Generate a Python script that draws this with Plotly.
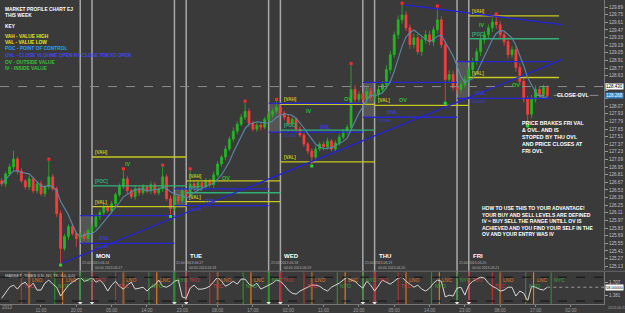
import plotly.graph_objects as go
import pandas as pd

# ---------------- data ----------------
hours = list(range(1, 141))
first_open = 126.70
close = [
    126.643, 126.826, 126.954, 127.100, 126.880, 126.698, 126.588, 126.734, 126.515, 126.643,
    126.461, 126.588, 126.771, 126.552, 126.096, 125.457, 125.676, 125.858, 125.731, 125.639,
    125.712, 125.639, 125.785, 125.858, 126.041, 126.114, 126.223, 126.150, 126.278, 126.444,
    126.588, 126.734, 126.515, 126.406, 126.552, 126.479, 126.588, 126.515, 126.625, 126.479,
    126.552, 126.771, 126.369, 126.187, 126.406, 126.333, 126.515, 126.442, 126.643, 126.552,
    126.661, 126.588, 126.698, 126.625, 126.807, 127.008, 127.136, 127.282, 127.465, 127.611,
    127.738, 127.866, 127.976, 127.757, 127.647, 127.720, 127.684, 127.830, 127.921, 127.976,
    128.049, 127.939, 127.866, 127.757, 127.830, 127.647, 127.538, 127.373, 127.246, 127.136,
    127.282, 127.373, 127.319, 127.428, 127.282, 127.392, 127.501, 127.611, 127.684, 128.377,
    128.195, 128.286, 128.195, 128.341, 128.231, 128.286, 128.377, 128.469, 128.742, 129.016,
    129.381, 129.655, 129.746, 129.509, 129.199, 129.326, 129.071, 129.290, 129.381, 129.253,
    129.472, 129.655, 129.199, 128.560, 128.651, 128.414, 128.377, 128.469, 128.560, 128.742,
    128.888, 129.071, 129.290, 129.381, 129.509, 129.618, 129.564, 129.381, 129.253, 129.016,
    129.107, 128.779, 128.523, 128.195, 127.921, 128.195, 128.377, 128.286, 128.414, 128.268,
]
upper_wick = [
    0.05, 0.04, 0.06, 0.15, 0.04, 0.05, 0.03, 0.06, 0.04, 0.05,
    0.06, 0.04, 0.29, 0.05, 0.04, 0.06, 0.05, 0.04, 0.06, 0.03,
    0.04, 0.05, 0.03, 0.06, 0.04, 0.05, 0.06, 0.04, 0.05, 0.04,
    0.06, 0.15, 0.05, 0.04, 0.06, 0.04, 0.05, 0.03, 0.06, 0.05,
    0.04, 0.18, 0.05, 0.06, 0.04, 0.05, 0.06, 0.04, 0.24, 0.05,
    0.04, 0.06, 0.05, 0.04, 0.06, 0.05, 0.04, 0.06, 0.05, 0.07,
    0.05, 0.06, 0.15, 0.05, 0.04, 0.06, 0.05, 0.04, 0.06, 0.05,
    0.11, 0.05, 0.04, 0.06, 0.05, 0.04, 0.06, 0.05, 0.04, 0.05,
    0.06, 0.04, 0.05, 0.06, 0.04, 0.05, 0.06, 0.04, 0.05, 0.44,
    0.08, 0.06, 0.05, 0.07, 0.06, 0.05, 0.07, 0.06, 0.08, 0.07,
    0.06, 0.08, 0.18, 0.07, 0.06, 0.08, 0.07, 0.06, 0.08, 0.07,
    0.06, 0.22, 0.07, 0.06, 0.08, 0.07, 0.06, 0.08, 0.07, 0.06,
    0.07, 0.06, 0.08, 0.07, 0.06, 0.08, 0.11, 0.07, 0.06, 0.08,
    0.07, 0.06, 0.08, 0.07, 0.06, 0.08, 0.07, 0.06, 0.05, 0.04,
]
lower_wick = [
    0.05, 0.06, 0.04, 0.05, 0.06, 0.04, 0.05, 0.06, 0.04, 0.05,
    0.04, 0.06, 0.05, 0.04, 0.06, 0.27, 0.05, 0.06, 0.04, 0.15,
    0.05, 0.04, 0.06, 0.05, 0.04, 0.06, 0.05, 0.04, 0.06, 0.05,
    0.04, 0.05, 0.06, 0.04, 0.05, 0.06, 0.04, 0.05, 0.06, 0.04,
    0.05, 0.06, 0.04, 0.11, 0.05, 0.06, 0.04, 0.05, 0.06, 0.04,
    0.05, 0.06, 0.04, 0.05, 0.06, 0.04, 0.05, 0.06, 0.04, 0.05,
    0.06, 0.04, 0.05, 0.06, 0.04, 0.05, 0.06, 0.04, 0.05, 0.06,
    0.04, 0.05, 0.06, 0.04, 0.05, 0.06, 0.04, 0.05, 0.06, 0.13,
    0.05, 0.04, 0.06, 0.05, 0.04, 0.06, 0.05, 0.04, 0.06, 0.05,
    0.07, 0.06, 0.08, 0.07, 0.06, 0.08, 0.07, 0.06, 0.08, 0.07,
    0.06, 0.08, 0.07, 0.06, 0.08, 0.07, 0.06, 0.08, 0.07, 0.06,
    0.08, 0.07, 0.06, 0.40, 0.07, 0.06, 0.08, 0.07, 0.06, 0.08,
    0.07, 0.06, 0.08, 0.07, 0.06, 0.08, 0.07, 0.06, 0.08, 0.07,
    0.06, 0.08, 0.07, 0.06, 0.18, 0.07, 0.06, 0.08, 0.05, 0.04,
]
frac_high_h = [13, 32, 42, 49, 63, 71, 90, 103, 112, 127]
frac_low_h = [16, 44, 80, 114, 135]

# market-profile levels per session
sess_names = ["MON", "TUE", "WED", "THU", "FRI"]
sess_start = [24, 48, 72, 96, 120]
sess_end = [48, 72, 96, 120, 143]
vah = [127.136, 126.698, 128.103, None, 129.728]
poc = [126.607, 126.479, 127.629, None, 129.308]
val = [126.223, 126.315, 127.045, 128.085, 128.596]
ovl_start = [21, 45, 69, 93, 117]
ovl_end = [45, 69, 93, 117, 141]
ovl_hi = [126.059, 126.552, 128.122, 128.505, 128.888]
ovl_lo = [125.548, 126.242, 127.592, 127.866, 128.213]
ovl_label_h = [25.3, 52.3, 81.6, 98.6, 121.0]
sess_open_dates = ["2013.06.17", "2013.06.18", "2013.06.19", "2013.06.20", "2013.06.21"]
sess_close_dates = ["2013.06.14", "2013.06.17", "2013.06.18", "2013.06.19", "2013.06.20"]
zone_labels = [("IV", 31.9, 127.008), ("OV", 56.6, 126.753), ("IV", 78.0, 127.976),
               ("OV", 87.7, 128.195), ("OV", 101.7, 128.176), ("IV", 122.1, 129.564),
               ("OV", 130.5, 128.450)]

trend_up_h = [16.3, 143.7]
trend_up_p = [125.183, 128.925]
trend_dn_h = [103.7, 143.7]
trend_dn_p = [129.929, 129.569]

ask_price = 128.430
bid_price = 128.268

price_ticks = [125.13, 125.27, 125.41, 125.55, 125.69, 125.83, 125.97, 126.11, 126.25,
               126.39, 126.53, 126.67, 126.81, 126.95, 127.09, 127.23, 127.37, 127.51,
               127.65, 127.79, 127.93, 128.07, 128.21, 128.35, 128.49, 128.63, 128.77,
               128.91, 129.05, 129.19, 129.33, 129.47, 129.61, 129.75, 129.89, 130.03]
hidden_ticks = [128.21, 128.35, 128.49]   # covered by the price boxes in the reference

time_tick_h = [11, 20, 29, 38, 47, 56, 65, 74, 83, 92, 101, 110, 119, 128, 137, 146]
time_tick_txt = ["11:00", "20:00", "05:00", "14:00", "23:00", "08:00", "17:00", "02:00",
                 "11:00", "20:00", "05:00", "14:00", "23:00", "08:00", "17:00", "02:00"]

# oscillator sub-window
osc = [
    12, 33, 58, 67, 50, 71, 79, 58, 75, 46,
    46, 75, 88, 71, 58, 21, 46, 67, 79, 88,
    100, 83, 88, 100, 79, 88, 71, 42, 67, 83,
    62, 50, 67, 79, 50, 54, 58, 42, 58, 67,
    88, 62, 58, 67, 83, 88, 17, 12, 54, 67,
    50, 50, 54, 62, 83, 100, 83, 62, 71, 83,
    71, 92, 92, 71, 62, 75, 50, 58, 67, 75,
    88, 83, 67, 46, 33, 29, 42, 50, 58, 67,
    67, 62, 50, 42, 58, 67, 75, 88, 100, 88,
    83, 67, 54, 83, 67, 42, 67, 88, 79, 71,
    83, 96, 100, 83, 71, 58, 67, 50, 42, 54,
    75, 88, 83, 17, 25, 21, 54, 58, 25, 67,
    83, 92, 100, 96, 75, 62, 54, 42, 46, 58,
    58, 21, 42, 33, 0, 62, 58, 50, 46, 58,
]
osc_levels = [100, 0]
osc_ticks = [79, 25]
osc_tick_txt = ["1.707", "1.381"]
day_bases = [0, 24, 48, 72, 96, 120]
mkt_names = ["TKC", "LNO", "NYO", "LNC", "NYC", "TKO"]
mkt_offsets = [6, 8, 14.5, 16.5, 21, 24]

# ---------------- styling ----------------
BG = "#3a3a3a"
FONT = "Liberation Sans"
PXH = 3.925
X0 = 24 - 92 / PXH
X1 = 24 + 512 / PXH
YELLOW = "#c8c81e"
GREENL = "#33b07a"
BLUE = "#2828d2"
mkt_line_col = {"TKC": "#b43232", "TKO": "#b43232", "LNO": "#9a5a30", "LNC": "#e07a22",
                "NYO": "#2f8a2f", "NYC": "#2f8a2f"}
mkt_txt_col = {"TKC": "#d23c3c", "TKO": "#d23c3c", "LNO": "#e07a22", "LNC": "#e07a22",
               "NYO": "#3aaa3a", "NYC": "#3aaa3a"}
mkt_low = {"TKC": True, "NYO": True}


def py(y):
    return 1 - y / 313.0


opens = [first_open] + close[:-1]
highs = [max(o, c) + w for o, c, w in zip(opens, close, upper_wick)]
lows = [min(o, c) - w for o, c, w in zip(opens, close, lower_wick)]
ma = pd.Series(close).rolling(6, min_periods=1).mean().tolist()

fig = go.Figure()


def seg(starts, ends, vals):
    xs, ys = [], []
    for s, e, v in zip(starts, ends, vals):
        if v is None:
            continue
        xs += [s, e, None]
        ys += [v, v, None]
    return xs, ys


for vals, col, st, en in [(vah, YELLOW, sess_start, sess_end), (val, YELLOW, sess_start, sess_end),
                          (poc, GREENL, sess_start, sess_end), (ovl_hi, BLUE, ovl_start, ovl_end),
                          (ovl_lo, BLUE, ovl_start, ovl_end)]:
    xs, ys = seg(st, en, vals)
    fig.add_trace(go.Scatter(x=xs, y=ys, mode="lines", line=dict(color=col, width=1.3),
                             hoverinfo="skip", xaxis="x", yaxis="y"))

# trend lines
fig.add_trace(go.Scatter(x=trend_up_h, y=trend_up_p, mode="lines", line=dict(color="#2222dd", width=1.2),
                         hoverinfo="skip", xaxis="x", yaxis="y"))
fig.add_trace(go.Scatter(x=trend_dn_h, y=trend_dn_p, mode="lines", line=dict(color="#2222dd", width=1.2),
                         hoverinfo="skip", xaxis="x", yaxis="y"))

# candles
fig.add_trace(go.Candlestick(
    x=hours, open=opens, high=highs, low=lows, close=close,
    increasing=dict(line=dict(color="#22b822", width=0.8), fillcolor="#22b822"),
    decreasing=dict(line=dict(color="#ff3c3c", width=0.8), fillcolor="#ff3c3c"),
    whiskerwidth=0, hoverinfo="skip", xaxis="x", yaxis="y"))

# moving average
fig.add_trace(go.Scatter(x=hours, y=ma, mode="lines", line=dict(color="#5a88a8", width=1.1),
                         hoverinfo="skip", xaxis="x", yaxis="y"))

# fractal dots
fig.add_trace(go.Scatter(x=frac_high_h, y=[highs[h - 1] + 0.035 for h in frac_high_h], mode="markers",
                         marker=dict(symbol="square", size=3, color="#ff2a2a"), hoverinfo="skip",
                         xaxis="x", yaxis="y"))
fig.add_trace(go.Scatter(x=frac_low_h, y=[lows[h - 1] - 0.035 for h in frac_low_h], mode="markers",
                         marker=dict(symbol="square", size=3, color="#22dd22"), hoverinfo="skip",
                         xaxis="x", yaxis="y"))

# oscillator
fig.add_trace(go.Scatter(x=hours, y=osc, mode="lines", line=dict(color="#d8d8d8", width=1),
                         hoverinfo="skip", xaxis="x2", yaxis="y2"))
fig.add_trace(go.Scatter(x=[hours[-1], X1], y=[osc[-1], osc[-1]], mode="lines",
                         line=dict(color="#9a9a9a", width=1, dash="dot"), hoverinfo="skip",
                         xaxis="x2", yaxis="y2"))
for lv in osc_levels:
    fig.add_trace(go.Scatter(x=[X0, X1], y=[lv, lv], mode="lines",
                             line=dict(color="#111111", width=1, dash="dash"), hoverinfo="skip",
                             xaxis="x2", yaxis="y2"))

shapes = []
annotations = []

# OVL boxes
for s, lo, hi in zip(ovl_start, ovl_lo, ovl_hi):
    shapes.append(dict(type="rect", xref="x", yref="y", x0=s, x1=s + 3, y0=lo, y1=hi,
                       fillcolor="rgba(150,150,150,0.30)", line=dict(width=0), layer="below"))

# day separators
for s in sess_start:
    for xx in (s - 3, s):
        shapes.append(dict(type="line", xref="x", yref="paper", x0=xx, x1=xx, y0=py(305), y1=1,
                           line=dict(color="#a8a8a8", width=1.5), layer="below"))

# ask line + bid line
shapes.append(dict(type="line", xref="paper", yref="y", x0=0, x1=604 / 625, y0=ask_price, y1=ask_price,
                   line=dict(color="#8a8a8a", width=1, dash="dash")))
shapes.append(dict(type="line", xref="x", yref="y", x0=137, x1=X1, y0=bid_price, y1=bid_price,
                   line=dict(color="#8a8a8a", width=1, dash="dash")))

# panel border
shapes.append(dict(type="line", xref="paper", yref="paper", x0=0, x1=1, y0=py(273), y1=py(273),
                   line=dict(color="#6a6a6a", width=1)))

# market time lines in sub-window
for b in day_bases:
    for nm, off in zip(mkt_names, mkt_offsets):
        xx = b + off
        if xx < X0 or xx > 142:
            continue
        wdt = 2 if nm == "LNO" else 1.2
        shapes.append(dict(type="line", xref="x2", yref="y2 domain", x0=xx, x1=xx, y0=0, y1=1,
                           line=dict(color=mkt_line_col[nm], width=wdt), layer="below"))
        annotations.append(dict(x=xx, y=62.5 if nm in mkt_low else 87.5, xref="x2", yref="y2",
                                text=nm, showarrow=False, xanchor="left", yanchor="middle", xshift=1,
                                font=dict(family=FONT, size=5, color=mkt_txt_col[nm])))

# triangle markers at separators
fig.add_trace(go.Scatter(x=[v for s in sess_start for v in (s - 3, s)], y=[-8] * 10, mode="markers",
                         marker=dict(symbol="triangle-down", size=4, color="#e0e0e0"),
                         hoverinfo="skip", xaxis="x2", yaxis="y2"))


def lab(x, y, t, col, size=4.5, xa="left", ya="bottom", xref="x", yref="y", bold=True):
    annotations.append(dict(x=x, y=y, xref=xref, yref=yref, text=("<b>%s</b>" % t) if bold else t,
                            showarrow=False, xanchor=xa, yanchor=ya,
                            font=dict(family=FONT, size=size, color=col)))


# level labels
for i in range(5):
    s = sess_start[i]
    if vah[i] is not None:
        lab(s + 0.3, vah[i], "[VAH]", YELLOW)
    if poc[i] is not None:
        lab(s + 0.3, poc[i], "[POC]", GREENL)
    lab(s + 0.3, val[i], "[VAL]", YELLOW)
    lab(ovl_label_h[i], ovl_lo[i], "OVL", "#3a3ae6", size=5)
    lab(s + 0.3, ovl_lo[i], "%.3f" % ovl_lo[i], "#3a3ae6", size=3.5, ya="top", bold=False)
for t, hx, pv in zone_labels:
    lab(hx, pv, t, "#33bb33", size=5.5, ya="middle")

# day labels
for i in range(5):
    s = sess_start[i]
    lab(s + 0.5, py(258), sess_names[i], "#ffffff", size=6, xref="x", yref="paper", ya="middle")
    lab(s - 3, py(265), "21:00 " + sess_close_dates[i], "#b0b0b0", size=3.5, xref="x", yref="paper",
        ya="middle", bold=False)
    lab(s + 0.3, py(270), "00:00 " + sess_open_dates[i], "#b0b0b0", size=3.5, xref="x", yref="paper",
        ya="middle", bold=False)

# key block
key = [("MARKET PROFILE CHART EJ", "#ffffff", 10), ("THIS WEEK", "#ffffff", 16),
       ("KEY", "#ffffff", 27), ("VAH - VALUE HIGH", "#e6e61a", 37), ("VAL - VALUE LOW", "#e6e61a", 43),
       ("POC - POINT OF CONTROL", "#2f9ef0", 49),
       ("OVL - CLOSE VLOUME OPEN NY CLOSE TOKYO OPEN", "#4646f0", 56),
       ("OV - OUTSIDE VALUE", "#35c435", 63), ("IV - INSIDE VALUE", "#35c435", 69)]
for t, c, yy in key:
    lab(3 / 625, py(yy), t, c, size=4.8, xref="paper", yref="paper", ya="middle")

note1 = "PRICE BRAKES FRI VAL<br>& OVL. AND IS<br>STOPED BY THU OVL<br>AND PRICE CLOSES AT<br>FRI OVL"
annotations.append(dict(x=520 / 625, y=py(119), xref="paper", yref="paper", text="<b>%s</b>" % note1,
                        showarrow=False, xanchor="left", yanchor="top", align="left",
                        font=dict(family=FONT, size=5.3, color="#ffffff")))
note2 = ("HOW TO USE THIS TO YOUR ADVANTAGE!<br>YOUR BUY AND SELL LEVELS ARE DEFINED<br>"
         "IV = BUY SELL THE RANGE UNTILL OV IS<br>ACHIEVED AND YOU FIND YOUR SELF IN THE<br>"
         "OV AND YOUR ENTRY WAS IV")
annotations.append(dict(x=480 / 625, y=py(204), xref="paper", yref="paper", text="<b>%s</b>" % note2,
                        showarrow=False, xanchor="left", yanchor="top", align="left",
                        font=dict(family=FONT, size=5, color="#ffffff")))
lab(555 / 625, bid_price, "CLOSE OVL", "#ffffff", size=5.5, xref="paper", yref="y", ya="middle")

# price boxes on axis
annotations.append(dict(x=605 / 625, y=ask_price, xref="paper", yref="y", text="%.3f" % ask_price,
                        showarrow=False, xanchor="left", yanchor="middle", bgcolor="#ffffff",
                        borderpad=0, font=dict(family=FONT, size=4.5, color="#000000")))
annotations.append(dict(x=605 / 625, y=bid_price, xref="paper", yref="y", text="%.3f" % bid_price,
                        showarrow=False, xanchor="left", yanchor="middle", bgcolor="#2f86c8",
                        borderpad=0, font=dict(family=FONT, size=4.5, color="#ffffff")))
annotations.append(dict(x=605 / 625, y=osc[-1], xref="paper", yref="y2", text="%.5f" % osc[-1],
                        showarrow=False, xanchor="left", yanchor="middle", bgcolor="#ffffff",
                        borderpad=0, font=dict(family=FONT, size=4, color="#000000")))

# indicator title + corner labels
lab(3 / 625, py(277), "MARKET_TIMES (LN, NY, TK, 0.0, 0.0)", "#c8c8c8", size=4, xref="paper",
    yref="paper", ya="middle", bold=False)
lab(0, py(309), "2013", "#a0a0a0", size=4.5, xref="paper", yref="paper", ya="middle", bold=False)
lab(606 / 625, py(310), "2013.06.21", "#a0a0a0", size=3.6, xref="paper", yref="paper", ya="middle",
    bold=False)

fig.update_layout(
    width=625, height=313, margin=dict(l=0, r=0, t=0, b=0),
    paper_bgcolor=BG, plot_bgcolor=BG, showlegend=False,
    shapes=shapes, annotations=annotations,
    xaxis=dict(domain=[0, 604 / 625], range=[X0, X1], anchor="y", showgrid=False, zeroline=False,
               showticklabels=False, rangeslider=dict(visible=False), fixedrange=True),
    xaxis2=dict(domain=[0, 604 / 625], range=[X0, X1], anchor="y2", matches="x", showgrid=False,
                zeroline=False, tickvals=time_tick_h, ticktext=time_tick_txt, ticks="outside",
                ticklen=2, tickcolor="#888888", showline=True, linecolor="#777777",
                tickfont=dict(family=FONT, size=4.5, color="#a0a0a0")),
    yaxis=dict(domain=[py(272), 1], range=[125.055, 130.02], side="right", anchor="x",
               showgrid=False, zeroline=False, tickvals=price_ticks,
               ticktext=["" if v in hidden_ticks else "%.2f" % v for v in price_ticks],
               ticks="outside", ticklen=3,
               tickcolor="#999999", showline=True, linecolor="#777777",
               tickfont=dict(family=FONT, size=4.6, color="#c0c0c0")),
    yaxis2=dict(domain=[py(306), py(274)], range=[-12.5, 120.8], side="right", anchor="x2",
                showgrid=False, zeroline=False, tickvals=osc_ticks, ticktext=osc_tick_txt,
                ticks="outside", ticklen=3, tickcolor="#999999", showline=True, linecolor="#777777",
                tickfont=dict(family=FONT, size=4.5, color="#c0c0c0")),
)

fig.write_html("out.html")
